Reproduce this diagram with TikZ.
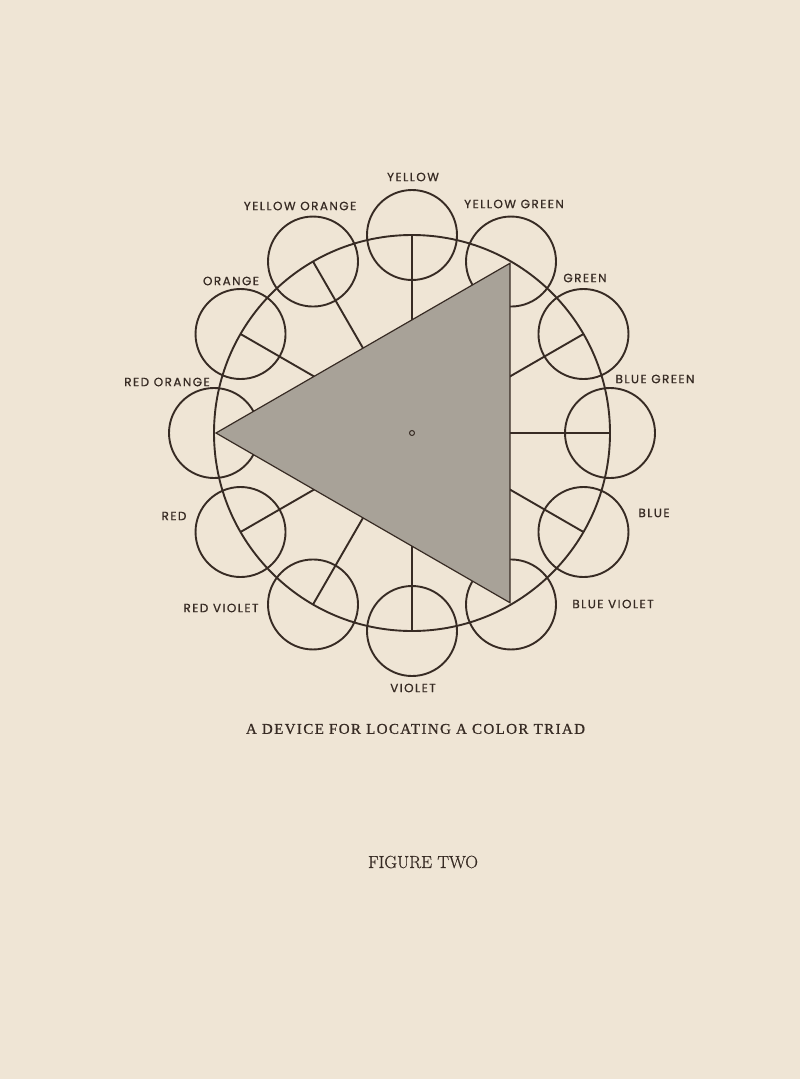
\documentclass[tikz,border=0pt]{standalone}
\usepackage{fontspec}
\newfontfamily\labfont[LetterSpace=12,FakeBold=0.8]{Poppins}
\newfontfamily\capfont[LetterSpace=9.3,FakeBold=0.8]{Liberation Serif}
\newfontfamily\figfont[FakeBold=0.6]{Latin Modern Roman}
\usetikzlibrary{calc}
\definecolor{paper}{RGB}{239,229,213}
\definecolor{ink}{RGB}{55,43,36}
\definecolor{trifill}{RGB}{168,162,152}
\begin{document}
\begin{tikzpicture}[x=1pt,y=-1pt,
  ring/.style={draw=ink,line width=1.9pt},
  hue/.style={circle,draw=ink,line width=1.9pt,minimum size=90pt,inner sep=0pt},
  lab/.style={text=ink,inner sep=0pt,font=\labfont\fontsize{12}{12}\selectfont},
  captext/.style={text=ink,inner sep=0pt,font=\capfont\fontsize{15}{15}\selectfont},
  figtext/.style={text=ink,inner sep=0pt,font=\figfont\fontsize{17.5}{17.5}\selectfont}]
\fill[paper] (0,0) rectangle (800,1079);
\useasboundingbox (0,0) rectangle (800,1079);
\coordinate (c) at (412,433);
\draw[ring] (c) circle[radius=198pt];
\foreach \a/\n in {90/y,60/yg,30/g,0/bg,-30/b,-60/bv,-90/v,-120/rv,-150/r,180/ro,150/o,120/yo}
  \node[hue] (\n) at ($(c)+({-\a}:198pt)$) {};
\foreach \n in {y,g,bg,b,v,rv,r,o,yo}
  \draw[ring] (c) -- (\n.center);
\coordinate (t1) at ($(c)+(-60:196pt)$);
\coordinate (t2) at ($(c)+(180:196pt)$);
\coordinate (t3) at ($(c)+(60:196pt)$);
\filldraw[fill=trifill,draw=ink,line width=1.2pt] (t1) -- (t2) -- (t3) -- cycle;
\node[circle,draw=ink,line width=1pt,inner sep=0pt,minimum size=5pt] (dot) at (c) {};
\node[lab] (ly) at (413,177) {YELLOW};
\node[lab] (lyg) at (514,204) {YELLOW GREEN};
\node[lab] (lyo) at (300,206) {YELLOW ORANGE};
\node[lab] (lo) at (231,281) {ORANGE};
\node[lab] (lg) at (585,278) {GREEN};
\node[lab] (lbg) at (655,379) {BLUE GREEN};
\node[lab] (lro) at (167,382) {RED ORANGE};
\node[lab] (lr) at (174,516) {RED};
\node[lab] (lb) at (654,513) {BLUE};
\node[lab] (lrv) at (221,608) {RED VIOLET};
\node[lab] (lbv) at (613,604) {BLUE VIOLET};
\node[lab] (lv) at (413,688) {VIOLET};
\node[captext] (caption) at (415.5,729) {A DEVICE FOR LOCATING A COLOR TRIAD};
\node[figtext] (figure) at (423,862) {FIGURE TWO};
\end{tikzpicture}
\end{document}
